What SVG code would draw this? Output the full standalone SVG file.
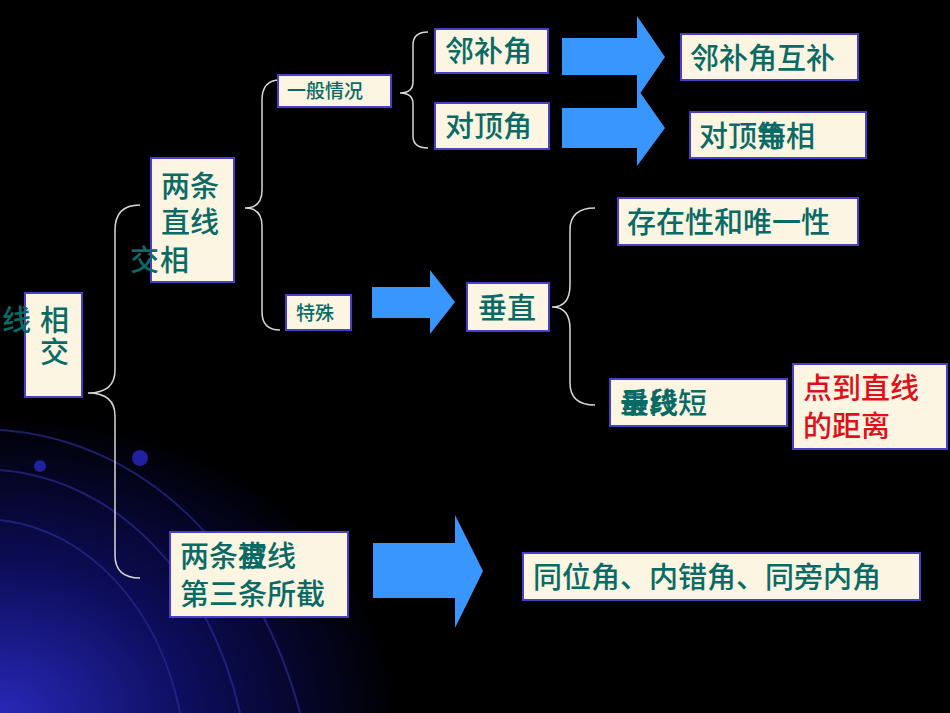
<svg xmlns="http://www.w3.org/2000/svg" width="950" height="713" viewBox="0 0 950 713">
<defs>
<radialGradient id="bg" cx="0" cy="1" r="0.42">
<stop offset="0" stop-color="#2828b8"/>
<stop offset="0.5" stop-color="#0c0c58"/>
<stop offset="1" stop-color="#000000"/>
</radialGradient>
<style>
.box{fill:#fcf5e2;stroke:#4a3fc8;stroke-width:2}
.t{font-family:"Noto Sans CJK SC",sans-serif;fill:#0a6a66;font-size:29px;font-weight:500}
.s{font-size:19px}
.r{fill:#e0101a}
.br{fill:none;stroke:#d8d8d8;stroke-width:1.5}
.ar{fill:#3a96ff}
</style>
</defs>
<rect width="950" height="713" fill="#000"/>
<rect width="950" height="713" fill="url(#bg)"/>
<g fill="none" stroke="#2a2a90" stroke-width="2" opacity="0.7">
<path d="M0,430 C150,440 260,560 300,713"/>
<path d="M0,470 C120,480 210,580 240,713"/>
<path d="M0,520 C90,530 160,610 180,713"/>
</g>
<circle cx="140" cy="458" r="8" fill="#2020a0"/>
<circle cx="40" cy="466" r="6" fill="#2020a0"/>
<g id="connectors">
<path class="br" d="M140,205 Q115,205 115,230 L115,370 Q115,393 88,393 Q115,393 115,416 L115,555 Q115,578 140,578"/>
<path class="br" d="M280,80 Q262,80 262,100 L262,190 Q262,208 245,208 Q262,208 262,226 L262,312 Q262,330 280,330"/>
<path class="br" d="M428,32 Q413,32 413,45 L413,82 Q413,93 400,93 Q413,93 413,104 L413,136 Q413,148 428,148"/>
<path class="br" d="M595,208 Q570,208 570,230 L570,285 Q570,307 552,307 Q570,307 570,329 L570,383 Q570,405 595,405"/>
<path class="ar" d="M562,38 H637 V16 L665,57 L637,98 V75 H562 Z"/>
<path class="ar" d="M562,108 H637 V88 L665,128 L637,166 V148 H562 Z"/>
<path class="ar" d="M372,287 H430 V270 L455,302 L430,334 V318 H372 Z"/>
<path class="ar" d="M373,543 H455 V515 L483,571 L455,628 V598 H373 Z"/>
</g>
<g id="n1"><rect class="box" x="25" y="293" width="57" height="104"/>
<text class="t" x="40" y="331">相</text><text class="t" x="40" y="363">交</text><text class="t" x="2" y="331">线</text></g>
<g id="n2"><rect class="box" x="151" y="158" width="83" height="124"/>
<text class="t" x="161" y="197">两条</text><text class="t" x="161" y="233">直线</text><text class="t" x="130" y="271">交</text><text class="t" x="160" y="271">相</text></g>
<g id="n3"><rect class="box" x="278" y="75" width="113" height="32"/><text class="t s" x="287" y="98">一般情况</text></g>
<g id="n4"><rect class="box" x="286" y="295" width="65" height="35"/><text class="t s" x="296" y="320">特殊</text></g>
<g id="n5"><rect class="box" x="435" y="29" width="113" height="44"/><text class="t" x="445" y="62">邻补角</text></g>
<g id="n6"><rect class="box" x="435" y="103" width="114" height="46"/><text class="t" x="445" y="137">对顶角</text></g>
<g id="n7"><rect class="box" x="681" y="34" width="177" height="46"/><text class="t" x="690" y="69">邻补角互补</text></g>
<g id="n8"><rect class="box" x="690" y="112" width="176" height="46"/><text class="t" x="699" y="147">对顶角相</text><text class="t" x="757" y="147">等</text></g>
<g id="n9"><rect class="box" x="467" y="283" width="82" height="48"/><text class="t" x="478" y="319">垂直</text></g>
<g id="n10"><rect class="box" x="618" y="198" width="240" height="47"/><text class="t" x="627" y="233">存在性和唯一性</text></g>
<g id="n11"><rect class="box" x="610" y="379" width="177" height="47"/><text class="t" x="620" y="414">垂线短</text><text class="t" x="620" y="414">最段</text></g>
<g id="n12"><rect class="box" x="793" y="364" width="154" height="85"/><text class="t r" x="803" y="399">点到直线</text><text class="t r" x="803" y="437">的距离</text></g>
<g id="n13"><rect class="box" x="170" y="532" width="178" height="85"/><text class="t" x="180" y="567">两条直线</text><text class="t" x="238" y="567">被</text><text class="t" x="180" y="605">第三条所截</text></g>
<g id="n14"><rect class="box" x="523" y="553" width="397" height="47"/><text class="t" x="533" y="588">同位角、内错角、同旁内角</text></g>
</svg>
